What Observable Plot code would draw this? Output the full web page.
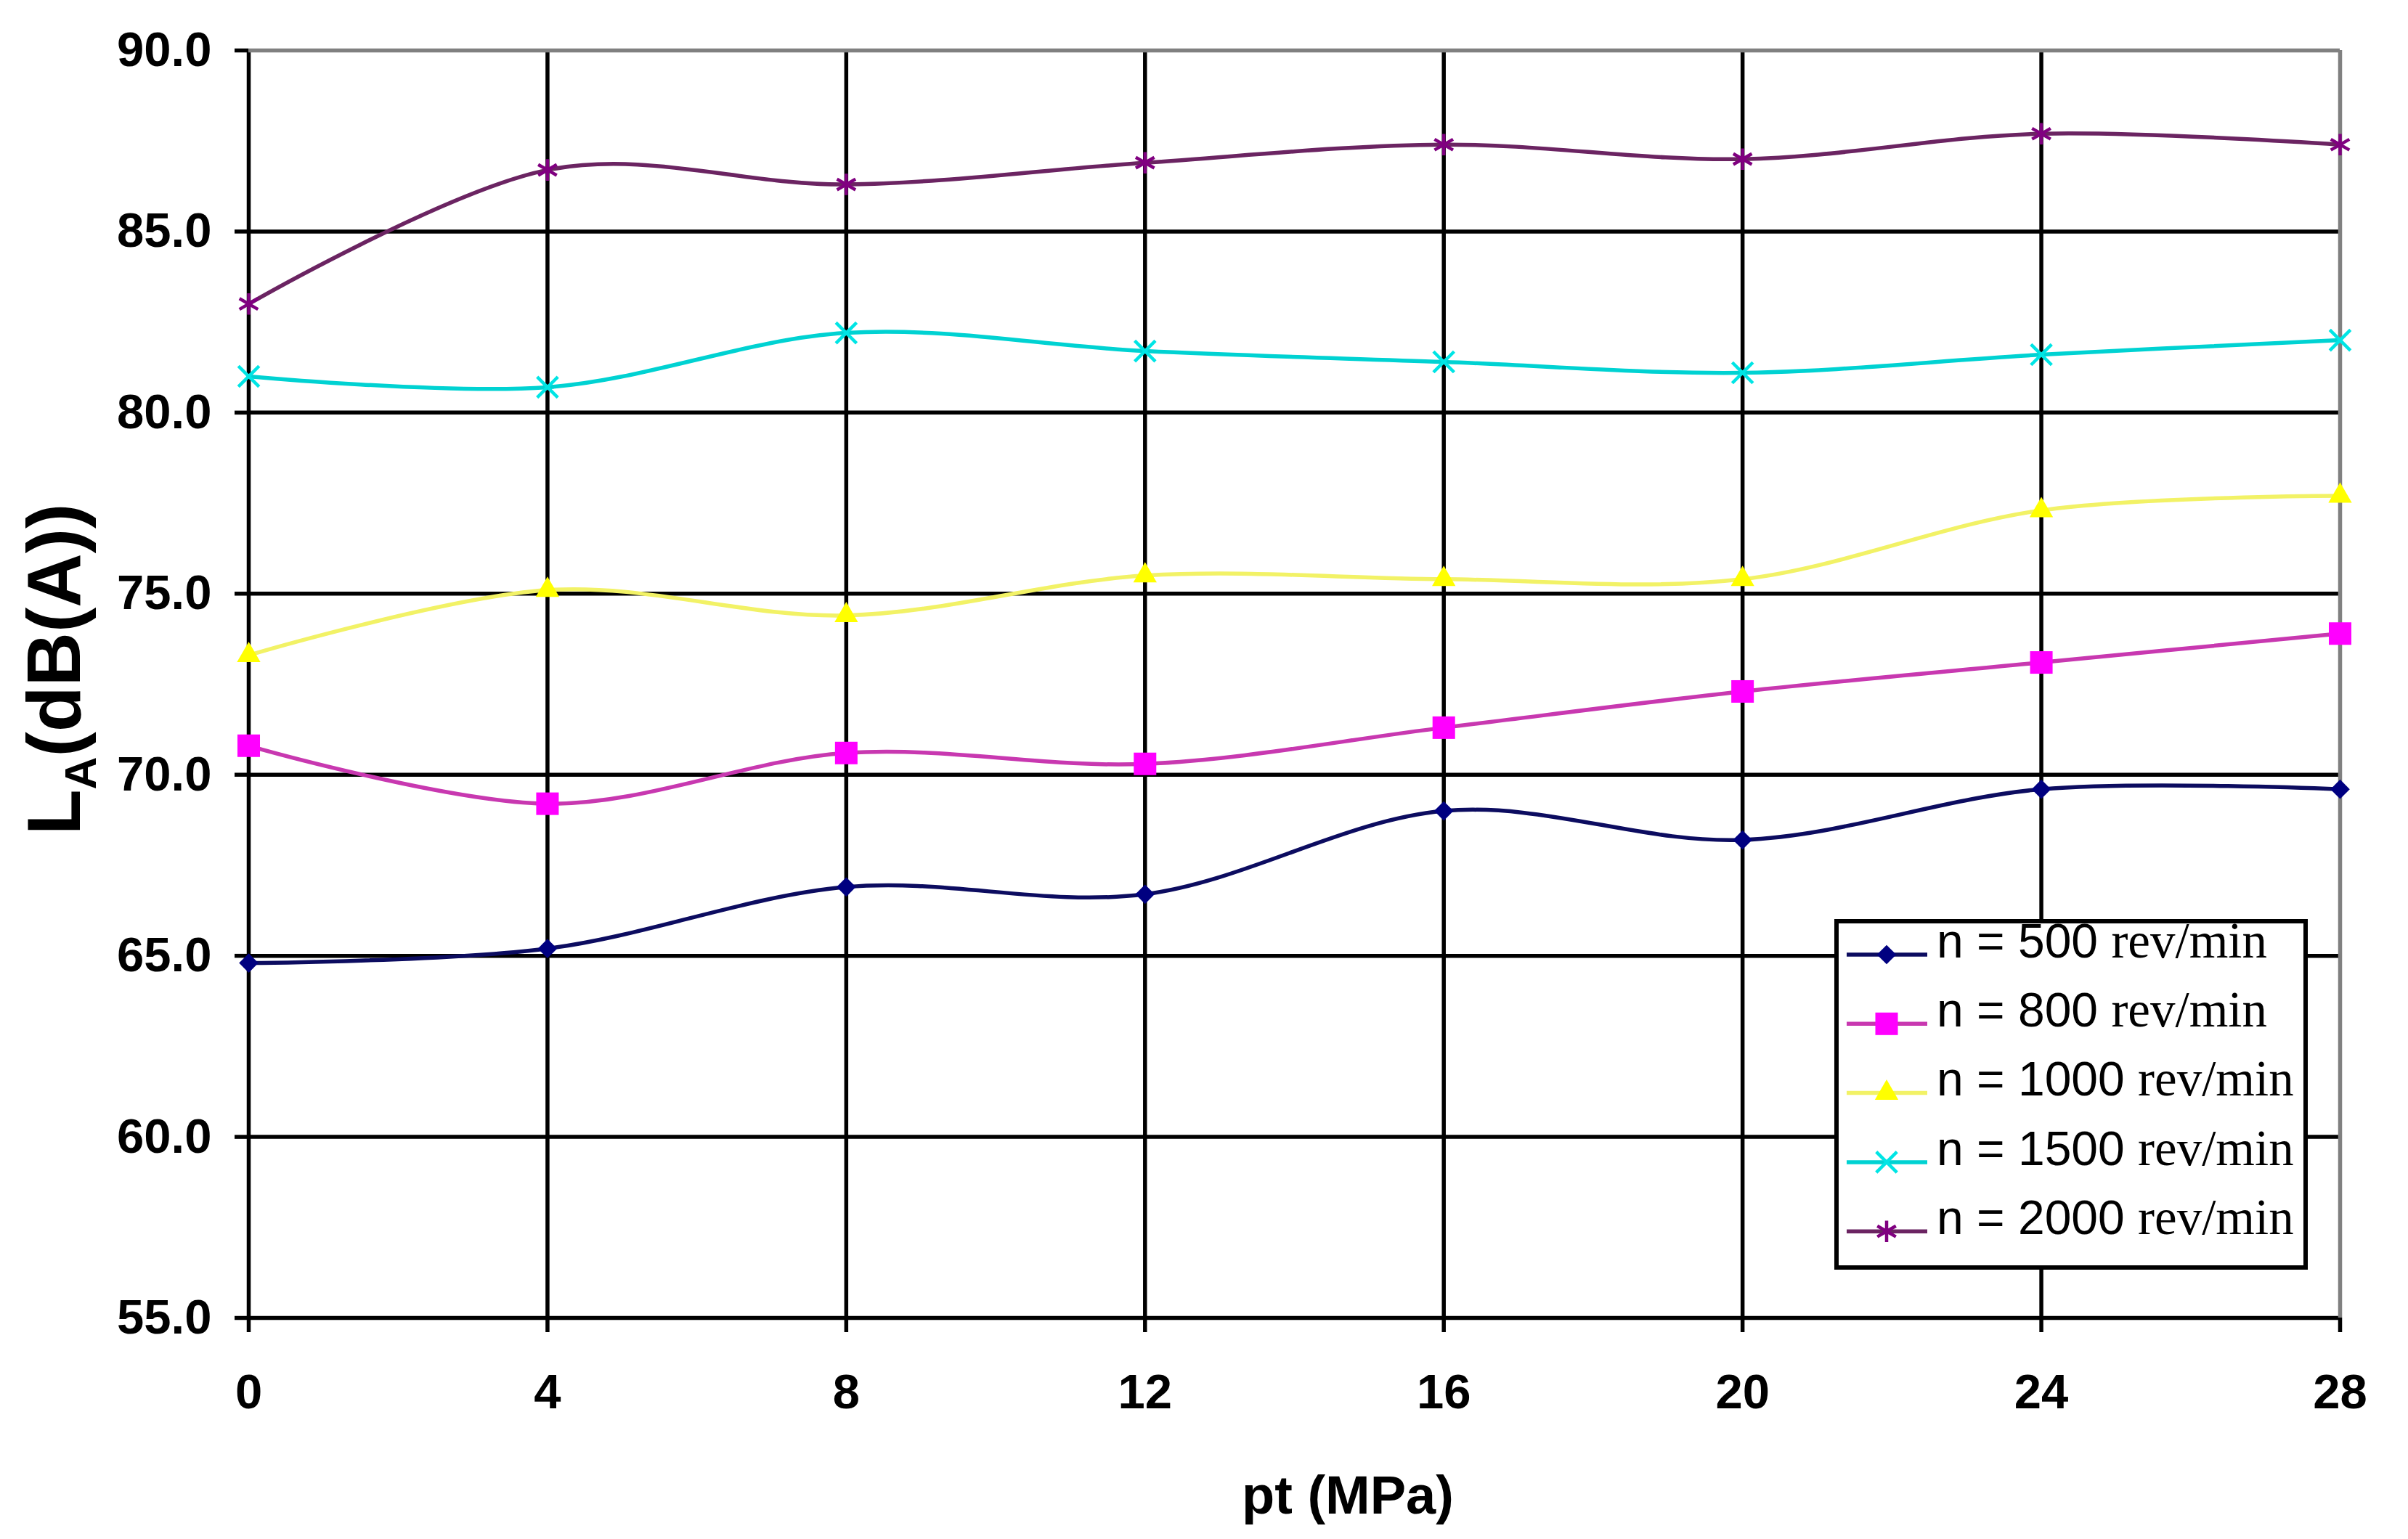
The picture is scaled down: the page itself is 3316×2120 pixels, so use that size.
<!DOCTYPE html>
<html><head><meta charset="utf-8">
<script src="https://cdn.jsdelivr.net/npm/d3@7"></script>
<script src="https://cdn.jsdelivr.net/npm/@observablehq/plot@0.6"></script>
<style>
html,body{margin:0;padding:0;background:#fff;}
#chart{position:relative;width:3316px;height:2120px;}
</style></head><body><div id="chart"></div>
<script>
// ---- data ----
const pressure = [0, 4, 8, 12, 16, 20, 24, 28];
const speedLabels = ["n = 500", "n = 800", "n = 1000", "n = 1500", "n = 2000"];
const unitLabel = "rev/min";
const la500  = [64.8, 65.2, 66.9, 66.7, 69.0, 68.2, 69.6, 69.6];
const la800  = [70.8, 69.2, 70.6, 70.3, 71.3, 72.3, 73.1, 73.9];
const la1000 = [73.3, 75.1, 74.4, 75.5, 75.4, 75.4, 77.3, 77.7];
const la1500 = [81.0, 80.7, 82.2, 81.7, 81.4, 81.1, 81.6, 82.0];
const la2000 = [83.0, 86.7, 86.3, 86.9, 87.4, 87.0, 87.7, 87.4];
const xTicks = [0, 4, 8, 12, 16, 20, 24, 28];
const yTicks = [55, 60, 65, 70, 75, 80, 85, 90];
const xLabel = "pt (MPa)";
const yLabelMain = "L", yLabelSub = "A", yLabelRest = "(dB(A))";

const markerColors = ["#000080", "#FF00FF", "#FFFF00", "#00E5E5", "#800080"];
const lineColors = ["#0c0c60", "#c838b0", "#f2f266", "#00d2d2", "#6b2462"];
const seriesSymbols = ["diamond2", "square", "triangle", "times", "asterisk"];
const symbolR = [12, 17.5, 12, 13, 14];
const stroked = [false, false, false, true, true];

const series = [la500, la800, la1000, la1500, la2000];
const rows = [];
series.forEach((vals, i) => vals.forEach((v, j) => rows.push({p: pressure[j], la: v, s: speedLabels[i]})));

const W = 3316, H = 2120;
const mL = 342, mR = 94, mT = 69, mB = 305;

const dotMarks = speedLabels.map((lab, i) => Plot.dot(rows.filter(d => d.s === lab), {
  x: "p", y: "la", symbol: seriesSymbols[i], r: symbolR[i],
  ...(stroked[i] ? {stroke: markerColors[i], strokeWidth: 4.5, fill: "none"} : {fill: markerColors[i], stroke: "none"})
}));

const chart = Plot.plot({
  width: W, height: H,
  marginLeft: mL, marginRight: mR, marginTop: mT, marginBottom: mB,
  style: {fontFamily: "'Liberation Sans', Arial, sans-serif", fontWeight: "bold", color: "black", background: "white", overflow: "visible"},
  x: {domain: [0, 28]},
  y: {domain: [55, 90]},
  color: {domain: speedLabels, range: lineColors},
  marks: [
    Plot.gridY(yTicks.filter(t => t !== 90), {stroke: "black", strokeOpacity: 1, strokeWidth: 5.5}),
    Plot.gridX(xTicks.filter(t => t !== 28), {stroke: "black", strokeOpacity: 1, strokeWidth: 5.5}),
    Plot.ruleY([90], {stroke: "#808080", strokeWidth: 5.5}),
    Plot.ruleX([28], {stroke: "#808080", strokeWidth: 5.5}),
    Plot.axisY(yTicks, {tickSize: 19, tickPadding: 32, tickFormat: d3.format(".1f"), label: null, fontSize: 67, strokeWidth: 5.5}),
    Plot.axisX(xTicks, {tickSize: 20, tickPadding: 57, label: null, fontSize: 67, strokeWidth: 5.5}),
    Plot.line(rows, {x: "p", y: "la", z: "s", stroke: "s", curve: "cardinal", strokeWidth: 5.5}),
    ...dotMarks
  ]
});
document.getElementById("chart").appendChild(chart);

const svg = d3.select(chart);
// x-axis title
svg.append("text").attr("x", 1856).attr("y", 2085).attr("text-anchor", "middle")
  .style("font-family", "'Liberation Sans', Arial, sans-serif").style("font-weight", "bold")
  .style("font-size", "74px").attr("fill", "black").text(xLabel);
// y-axis title
const yt = svg.append("text").attr("transform", "translate(110,922) rotate(-90)").attr("text-anchor", "middle")
  .style("font-family", "'Liberation Sans', Arial, sans-serif").style("font-weight", "bold")
  .style("font-size", "103px").attr("fill", "black");
yt.append("tspan").text(yLabelMain);
yt.append("tspan").attr("dy", 22).style("font-size", "62px").text(yLabelSub);
yt.append("tspan").attr("dy", -22).text(yLabelRest);

// legend
const lg = svg.append("g").attr("text-anchor", "start");
const lx0 = 2529, ly0 = 1269, lw = 646, lh = 477;
lg.append("rect").attr("x", lx0).attr("y", ly0).attr("width", lw).attr("height", lh)
  .attr("fill", "white").attr("stroke", "black").attr("stroke-width", 6);
const symMap = {diamond2: d3.symbolDiamond2, square: d3.symbolSquare, triangle: d3.symbolTriangle, times: d3.symbolTimes, asterisk: d3.symbolAsterisk};
speedLabels.forEach((lab, i) => {
  const cy = 1315 + i * 95.3;
  lg.append("line").attr("x1", 2543).attr("x2", 2654).attr("y1", cy).attr("y2", cy)
    .attr("stroke", lineColors[i]).attr("stroke-width", 5.5);
  const path = d3.symbol(symMap[seriesSymbols[i]], Math.PI * symbolR[i] * symbolR[i])();
  const p = lg.append("path").attr("d", path).attr("transform", `translate(2598,${cy})`);
  if (stroked[i]) p.attr("fill", "none").attr("stroke", markerColors[i]).attr("stroke-width", 4.5);
  else p.attr("fill", markerColors[i]);
  const t = lg.append("text").attr("x", 2667).attr("y", cy).attr("dy", "0.38em").attr("fill", "black")
    .attr("text-anchor", "start").style("font-weight", "normal");
  t.append("tspan").style("font-family", "'Liberation Sans', Arial, sans-serif").style("font-size", "66px").text(lab + " ");
  t.append("tspan").style("font-family", "'Liberation Serif', 'Times New Roman', serif").style("font-size", "69px").text(unitLabel);
});
</script>
</body></html>
